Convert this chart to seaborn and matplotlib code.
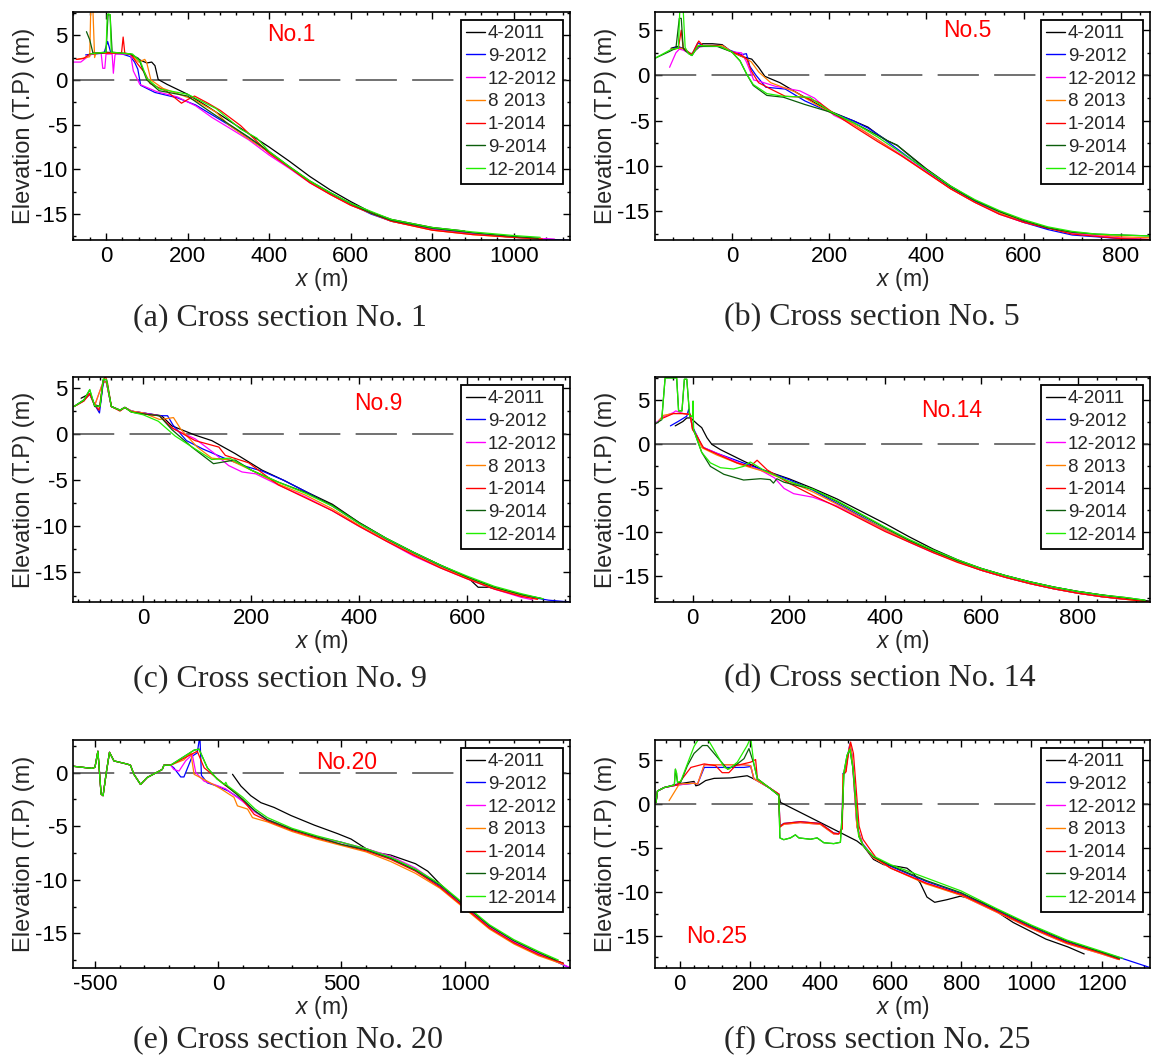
import matplotlib
matplotlib.use("Agg")
import matplotlib.pyplot as plt
from matplotlib.lines import Line2D
from matplotlib.ticker import MultipleLocator
import seaborn as sns
import pandas as pd

# survey names and line colours (same order in every panel)
surveys = ["4-2011", "9-2012", "12-2012", "8 2013", "1-2014", "9-2014", "12-2014"]
colors = ["#000000", "#0000ff", "#ff00ff", "#ff8000", "#ff0000", "#0b5d0b", "#22ee00"]

# ---------------- Cross section No. 1 ----------------
no1_apr11_x = [-45, -30, 0, 30, 60, 80, 100, 112, 120, 128, 150, 200, 250, 300, 350, 400, 450, 500, 550, 600, 650, 700, 800, 880]
no1_apr11_y = [2.8, 3.0, 3.1, 3.0, 2.9, 2.3, 1.9, 2.0, 1.6, 0.05, -0.5, -1.6, -3.0, -4.5, -6.0, -7.5, -9.1, -10.8, -12.3, -13.6, -14.8, -15.6, -16.5, -16.9]
no1_sep12_x = [-50, -30, -5, 4, 12, 40, 60, 70, 78, 85, 120, 175, 220, 260, 300, 350, 400, 450, 500, 550, 600, 650, 700, 800, 900, 1000, 1080, 1138]
no1_sep12_y = [2.8, 2.9, 3.0, 4.3, 3.0, 2.9, 2.6, 2.0, 1.2, -0.6, -1.4, -2.0, -2.8, -3.9, -5.0, -6.5, -8.1, -9.8, -11.4, -12.7, -13.9, -15.0, -15.8, -16.7, -17.2, -17.6, -17.8, -17.95]
no1_dec12_x = [-80, -62, -45, -30, -12, -8, -3, 0, 15, 18, 22, 25, 60, 67, 83, 124, 175, 220, 260, 300, 350, 400, 450, 500, 550, 600, 700, 800, 900, 1000, 1100]
no1_dec12_y = [2.0, 2.0, 2.6, 3.0, 3.0, 1.3, 1.3, 2.9, 2.9, 0.75, 2.8, 2.9, 2.9, 1.0, -0.5, -1.3, -1.9, -2.9, -4.2, -5.3, -6.7, -8.4, -9.9, -11.5, -12.8, -14.0, -15.8, -16.7, -17.2, -17.6, -17.8]
no1_aug13_x = [-70, -50, -40, -37, -33, -28, -25, 0, 30, 60, 80, 95, 100, 110, 140, 180, 220, 270, 300, 350, 400, 450, 500, 550, 600, 700, 800, 900, 1000, 1070]
no1_aug13_y = [2.3, 2.5, 2.6, 9.0, 9.0, 2.5, 3.0, 3.0, 3.0, 2.9, 2.0, 2.3, 1.9, 0.0, -0.95, -1.6, -2.3, -3.6, -5.0, -6.6, -8.1, -9.8, -11.4, -12.8, -14.0, -15.8, -16.8, -17.3, -17.6, -17.8]
no1_jan14_x = [-73, -55, -40, -10, 20, 38, 42, 46, 60, 79, 95, 108, 150, 185, 200, 217, 250, 280, 330, 400, 450, 500, 550, 600, 700, 800, 900, 1000, 1070]
no1_jan14_y = [2.3, 2.4, 2.9, 3.0, 3.0, 3.0, 4.8, 3.0, 2.9, 1.7, 0.8, -0.4, -1.3, -2.6, -2.2, -1.8, -2.6, -3.4, -5.1, -8.2, -9.8, -11.5, -12.8, -14.0, -15.8, -16.8, -17.3, -17.6, -17.8]
no1_sep14_x = [-48, -40, -32, -10, 0, 5, 10, 15, 40, 60, 80, 100, 130, 200, 260, 300, 350, 400, 450, 500, 550, 600, 650, 700, 800, 900, 1000, 1060]
no1_sep14_y = [5.4, 4.5, 3.0, 3.0, 3.1, 7.3, 7.3, 3.1, 3.0, 2.9, 2.4, 0.0, -1.2, -1.8, -3.7, -4.9, -6.4, -8.0, -9.7, -11.3, -12.6, -13.8, -14.9, -15.7, -16.6, -17.1, -17.5, -17.7]
no1_dec14_x = [-40, -25, 0, 3, 6, 10, 13, 40, 65, 85, 100, 130, 200, 270, 330, 370, 400, 450, 500, 550, 600, 700, 800, 900, 1000, 1065]
no1_dec14_y = [2.9, 3.0, 3.1, 7.3, 7.4, 7.3, 3.1, 3.0, 2.9, 2.0, 0.2, -1.0, -1.6, -3.2, -5.5, -6.5, -8.0, -9.7, -11.3, -12.6, -13.8, -15.6, -16.5, -17.0, -17.4, -17.6]

# ---------------- Cross section No. 5 ----------------
no5_apr11_x = [-125, -112, -100, -95, -85, -70, -60, -40, -20, 0, 20, 41, 55, 68, 99, 140, 200, 250, 280, 300, 320, 340, 400, 450, 500, 550, 600, 650]
no5_apr11_y = [3.0, 3.2, 3.0, 2.8, 2.3, 3.0, 3.5, 3.5, 3.4, 2.6, 2.1, 1.8, 0.9, -0.1, -0.8, -2.1, -3.9, -5.0, -5.7, -6.5, -7.2, -7.7, -10.3, -12.2, -13.8, -15.0, -16.1, -16.9]
no5_sep12_x = [-120, -110, -100, -90, -82, -70, -60, -30, 0, 20, 30, 37, 50, 70, 110, 150, 200, 250, 280, 300, 350, 400, 450, 500, 550, 600, 650, 700, 800, 860]
no5_sep12_y = [3.0, 3.1, 3.0, 2.6, 2.3, 3.6, 3.3, 3.3, 2.7, 2.3, 2.4, 1.0, 0.0, -1.3, -1.5, -2.8, -4.0, -5.0, -5.8, -6.5, -8.5, -10.5, -12.3, -13.9, -15.2, -16.2, -17.0, -17.6, -18.0, -18.15]
no5_dec12_x = [-128, -115, -108, -100, -90, -82, -70, -50, -20, 0, 20, 30, 45, 60, 90, 140, 170, 210, 250, 300, 350, 400, 450, 500, 550, 600, 700, 800, 860]
no5_dec12_y = [0.9, 2.5, 2.9, 2.8, 2.5, 2.3, 3.1, 3.3, 3.3, 2.6, 2.5, 1.5, -0.5, -0.7, -1.2, -1.7, -2.5, -4.4, -5.4, -7.1, -8.8, -10.6, -12.5, -14.0, -15.3, -16.2, -17.4, -17.9, -18.1]
no5_aug13_x = [-120, -110, -103, -98, -90, -82, -70, -40, -20, 0, 25, 40, 55, 80, 130, 170, 200, 250, 300, 350, 400, 450, 500, 550, 600, 650, 700, 800, 860]
no5_aug13_y = [2.9, 3.0, 3.0, 2.9, 2.6, 2.3, 3.3, 3.3, 3.3, 2.6, 2.0, 1.5, 0.4, -0.8, -1.8, -3.1, -4.0, -5.4, -7.1, -8.9, -10.7, -12.5, -14.0, -15.2, -16.0, -16.8, -17.3, -17.8, -17.9]
no5_jan14_x = [-125, -110, -104, -100, -96, -90, -82, -72, -68, -60, -30, 0, 20, 31, 40, 55, 80, 110, 150, 180, 200, 230, 250, 300, 350, 400, 450, 500, 550, 600, 700, 800, 860]
no5_jan14_y = [2.9, 3.0, 5.0, 3.0, 2.8, 2.6, 2.3, 3.4, 3.8, 3.3, 3.3, 2.6, 2.2, 1.8, 0.5, -0.8, -1.5, -2.3, -2.4, -3.0, -3.8, -4.9, -5.6, -7.3, -8.9, -10.7, -12.5, -14.0, -15.3, -16.2, -17.5, -18.0, -18.1]
no5_sep14_x = [-158, -130, -115, -108, -104, -100, -95, -88, -82, -70, -60, -30, 0, 17, 31, 44, 72, 106, 150, 200, 250, 300, 320, 340, 400, 450, 500, 550, 600, 650, 700, 750, 800, 860]
no5_sep14_y = [1.9, 2.6, 3.0, 6.3, 6.3, 3.0, 2.7, 2.4, 2.2, 3.2, 3.2, 3.2, 2.6, 1.6, 0.1, -1.1, -2.2, -2.4, -3.2, -4.0, -5.2, -6.6, -7.2, -7.7, -10.4, -12.3, -13.8, -15.0, -16.0, -16.8, -17.3, -17.5, -17.6, -17.7]
no5_dec14_x = [-158, -124, -110, -107, -100, -96, -89, -82, -69, -24, 0, 17, 31, 44, 72, 106, 160, 200, 250, 300, 350, 400, 450, 500, 550, 600, 650, 700, 750, 800, 860]
no5_dec14_y = [1.9, 2.9, 3.0, 7.2, 7.2, 3.1, 2.4, 2.2, 3.3, 3.2, 2.6, 1.6, 0.1, -1.0, -2.0, -2.3, -2.4, -3.9, -5.2, -6.8, -8.6, -10.4, -12.2, -13.7, -14.9, -15.9, -16.7, -17.2, -17.5, -17.6, -17.7]

# ---------------- Cross section No. 9 ----------------
no9_apr11_x = [-115, -99, -90, -80, -74, -68, -59, -43, -34, -22, 0, 34, 53, 96, 127, 170, 195, 220, 260, 300, 350, 400, 450, 500, 550, 600, 620, 640, 700, 735]
no9_apr11_y = [3.9, 4.4, 3.2, 3.0, 5.8, 5.6, 3.0, 2.6, 2.9, 2.5, 2.3, 2.0, 0.9, -0.1, -0.7, -2.1, -3.0, -3.9, -5.0, -6.2, -7.6, -9.6, -11.3, -12.8, -14.2, -15.5, -16.6, -16.6, -17.4, -17.8]
no9_sep12_x = [-128, -110, -99, -90, -81, -74, -68, -59, -43, -34, -22, 0, 30, 45, 55, 80, 110, 150, 190, 220, 260, 300, 350, 400, 450, 500, 550, 600, 650, 700, 750, 790]
no9_sep12_y = [3.0, 3.7, 4.3, 3.2, 2.3, 5.6, 5.6, 3.0, 2.6, 2.9, 2.5, 2.3, 2.0, 2.0, 1.0, -0.7, -1.6, -2.6, -3.5, -4.0, -5.0, -6.2, -7.8, -9.7, -11.4, -12.9, -14.3, -15.6, -16.7, -17.5, -18.0, -18.2]
no9_dec12_x = [-128, -110, -99, -90, -74, -68, -59, -43, -34, -22, 0, 30, 55, 96, 130, 158, 183, 208, 250, 300, 350, 400, 450, 500, 550, 600, 650, 700, 720]
no9_dec12_y = [3.0, 3.6, 4.4, 3.1, 5.7, 5.6, 3.0, 2.6, 2.9, 2.5, 2.3, 2.0, 0.6, -0.5, -2.0, -3.4, -4.1, -4.3, -5.5, -6.8, -8.3, -10.0, -11.6, -13.2, -14.5, -15.7, -16.8, -17.7, -17.95]
no9_aug13_x = [-128, -110, -99, -90, -74, -68, -59, -43, -34, -22, 0, 30, 45, 56, 70, 100, 127, 160, 200, 250, 300, 350, 400, 450, 500, 550, 600, 650, 700, 730]
no9_aug13_y = [3.0, 3.6, 4.4, 3.1, 5.7, 5.6, 3.0, 2.6, 2.9, 2.5, 2.3, 1.6, 1.7, 1.8, 0.5, -1.4, -2.6, -2.8, -3.9, -5.4, -6.6, -8.1, -9.9, -11.5, -13.0, -14.4, -15.6, -16.7, -17.5, -17.9]
no9_jan14_x = [-128, -110, -99, -90, -82, -74, -70, -66, -59, -43, -34, -22, 0, 30, 53, 96, 140, 152, 195, 250, 300, 350, 400, 450, 500, 550, 600, 650, 700, 730]
no9_jan14_y = [3.0, 3.6, 4.4, 3.2, 2.6, 5.8, 6.3, 5.5, 3.0, 2.5, 2.9, 2.4, 2.2, 2.0, 0.7, -0.7, -1.4, -2.3, -3.1, -5.5, -6.9, -8.3, -10.0, -11.6, -13.1, -14.5, -15.7, -16.8, -17.6, -17.9]
no9_sep14_x = [-128, -110, -99, -90, -80, -74, -68, -59, -43, -34, -22, 0, 30, 53, 90, 130, 170, 200, 250, 300, 350, 400, 450, 500, 550, 600, 650, 700, 740]
no9_sep14_y = [3.0, 3.7, 4.8, 3.0, 3.0, 5.9, 5.9, 3.0, 2.6, 2.9, 2.4, 2.2, 2.0, 0.5, -1.4, -3.2, -2.8, -3.9, -5.2, -6.3, -7.7, -9.6, -11.3, -12.8, -14.2, -15.5, -16.6, -17.4, -17.85]
no9_dec14_x = [-128, -110, -99, -90, -80, -74, -68, -59, -43, -34, -22, 0, 28, 59, 96, 127, 160, 200, 250, 300, 350, 400, 450, 500, 550, 600, 650, 700, 740]
no9_dec14_y = [3.0, 3.7, 4.85, 3.1, 3.0, 6.0, 5.9, 3.0, 2.6, 2.9, 2.4, 2.1, 1.4, -0.2, -1.6, -2.75, -2.6, -3.9, -5.2, -6.4, -7.8, -9.7, -11.3, -12.8, -14.2, -15.4, -16.5, -17.3, -17.85]

# ---------------- Cross section No. 14 ----------------
no14_apr11_x = [-36, -20, -12, -5, 0, 10, 19, 30, 40, 58, 106, 141, 200, 250, 300, 350, 400, 450, 500, 550, 600, 650, 700, 750, 800, 850, 900, 950]
no14_apr11_y = [2.1, 2.6, 3.0, 3.0, 2.8, 2.3, 1.9, 0.75, 0.0, -0.6, -1.9, -2.8, -3.9, -5.0, -6.2, -7.6, -9.0, -10.5, -11.9, -13.1, -14.1, -14.9, -15.6, -16.2, -16.7, -17.1, -17.5, -17.8]
no14_sep12_x = [-46, -30, -12, -8, -4, 0, 9, 20, 50, 100, 150, 200, 250, 300, 350, 400, 450, 500, 550, 600, 650, 700, 750, 800, 850, 900]
no14_sep12_y = [2.1, 2.6, 3.2, 4.0, 3.0, 2.0, 1.0, -0.3, -1.0, -2.0, -3.0, -4.0, -5.2, -6.7, -8.2, -9.7, -11.0, -12.2, -13.3, -14.3, -15.1, -15.8, -16.4, -16.9, -17.3, -17.6]
no14_dec12_x = [-78, -65, -50, -40, -35, -20, -5, 0, 9, 20, 50, 100, 140, 170, 190, 210, 250, 300, 350, 400, 450, 500, 550, 600, 650, 700, 750, 800, 850, 900]
no14_dec12_y = [2.3, 3.0, 3.4, 3.6, 3.8, 3.5, 3.4, 1.7, 1.0, -0.3, -1.0, -2.2, -2.9, -3.8, -5.0, -5.6, -6.0, -7.0, -8.4, -9.8, -11.1, -12.3, -13.3, -14.3, -15.1, -15.8, -16.4, -16.9, -17.3, -17.6]
no14_aug13_x = [-70, -60, -40, -20, -5, 0, 9, 20, 50, 100, 150, 200, 250, 300, 350, 400, 450, 500, 550, 600, 650, 700, 750, 800, 850, 900, 950]
no14_aug13_y = [2.7, 3.3, 3.5, 3.5, 3.4, 1.7, 0.9, -0.4, -1.2, -2.3, -3.1, -4.2, -5.4, -6.8, -8.3, -9.7, -11.0, -12.2, -13.3, -14.3, -15.1, -15.8, -16.4, -16.9, -17.3, -17.6, -17.9]
no14_jan14_x = [-65, -40, -20, -5, 0, 9, 23, 51, 92, 120, 134, 155, 200, 250, 300, 350, 400, 450, 500, 550, 600, 650, 700, 750, 800, 850, 900, 950]
no14_jan14_y = [2.9, 3.5, 3.5, 3.4, 1.7, 0.95, -0.4, -1.1, -2.1, -2.5, -1.8, -2.9, -4.4, -5.8, -7.1, -8.5, -9.9, -11.1, -12.3, -13.4, -14.3, -15.1, -15.8, -16.4, -16.9, -17.3, -17.6, -17.9]
no14_sep14_x = [-78, -64, -57, -33, -29, -22, -17, -12, -6, 0, 1, 2, 9, 19, 37, 65, 106, 141, 161, 168, 175, 190, 250, 300, 350, 400, 450, 500, 550, 600, 650, 700, 750, 800, 850, 900, 940]
no14_sep14_y = [2.3, 2.8, 7.55, 7.55, 3.8, 3.8, 7.4, 7.4, 3.2, 3.2, 4.9, 1.7, 0.6, -0.9, -2.5, -3.4, -4.05, -3.9, -4.0, -4.4, -3.9, -4.3, -5.1, -6.5, -8.0, -9.5, -10.9, -12.1, -13.2, -14.1, -14.9, -15.6, -16.2, -16.7, -17.1, -17.4, -17.7]
no14_dec14_x = [-64, -57, -33, -29, -22, -17, -12, -6, 0, 1, 2, 9, 19, 37, 58, 85, 106, 120, 150, 200, 250, 300, 350, 400, 450, 500, 550, 600, 650, 700, 750, 800, 850, 900, 940]
no14_dec14_y = [2.8, 7.55, 7.55, 3.8, 3.8, 7.4, 7.4, 3.2, 3.2, 4.9, 1.7, 0.6, -0.9, -2.1, -2.65, -2.8, -2.5, -2.0, -3.0, -4.2, -5.1, -6.4, -7.9, -9.4, -10.8, -12.0, -13.1, -14.1, -14.9, -15.6, -16.2, -16.7, -17.1, -17.4, -17.7]

# ---------------- Cross section No. 20 ----------------
# backshore part shared by the 2012-2014 surveys
no20_back_x = [-589, -512, -500, -488, -475, -467, -454, -441, -423, -369, -356, -342, -315, -288, -247, -227, -220, -193]
no20_back_y = [0.6, 0.4, 0.5, 2.0, -2.0, -2.15, 0.0, 1.9, 1.1, 0.8, 0.7, -0.15, -1.1, -0.45, 0.05, 0.3, 0.7, 0.7]
no20_apr11_x = [58, 92, 132, 173, 227, 295, 390, 485, 539, 600, 650, 700, 800, 850, 900, 1000, 1100, 1200, 1300, 1400]
no20_apr11_y = [-0.15, -1.25, -2.15, -2.8, -3.25, -4.0, -4.9, -5.7, -6.2, -7.1, -7.5, -7.7, -8.5, -9.2, -10.4, -12.5, -14.4, -15.8, -16.9, -17.8]
no20_sep12_x = no20_back_x + [-180, -152, -139, -105, -85, -76, -74, -68, -44, -4, 40, 100, 150, 200, 300, 400, 500, 600, 700, 800, 900, 1000, 1100, 1200, 1300, 1427]
no20_sep12_y = no20_back_y + [0.45, -0.4, -0.4, 1.55, 1.85, 3.2, 3.2, -0.25, -0.95, -1.25, -1.7, -2.6, -3.6, -4.4, -5.3, -6.0, -6.5, -7.2, -8.0, -9.1, -10.6, -12.5, -14.3, -15.8, -16.9, -18.24]
no20_dec12_x = no20_back_x + [-180, -159, -132, -105, -91, -57, -17, 30, 100, 150, 200, 300, 400, 500, 600, 700, 800, 900, 1000, 1100, 1200, 1300, 1427]
no20_dec12_y = no20_back_y + [0.3, 0.15, 1.1, 1.7, 0.0, -0.8, -1.1, -1.5, -2.7, -3.7, -4.4, -5.3, -6.0, -6.5, -7.1, -7.8, -8.9, -10.5, -12.5, -14.4, -15.8, -16.9, -18.2]
no20_aug13_x = no20_back_x + [-139, -111, -98, -44, 10, 64, 78, 119, 139, 200, 300, 400, 500, 600, 700, 800, 900, 1000, 1100, 1200, 1300, 1400]
no20_aug13_y = no20_back_y + [1.2, 1.85, -0.15, -0.8, -1.5, -2.3, -3.1, -3.4, -4.2, -4.6, -5.5, -6.2, -6.8, -7.4, -8.3, -9.4, -10.8, -12.7, -14.6, -16.0, -17.1, -17.9]
no20_jan14_x = no20_back_x + [-85, -57, -17, 24, 78, 119, 146, 200, 300, 400, 500, 600, 700, 800, 900, 1000, 1100, 1200, 1300, 1400]
no20_jan14_y = no20_back_y + [2.0, 0.45, -0.3, -1.1, -2.0, -3.1, -3.9, -4.5, -5.4, -6.1, -6.7, -7.3, -8.1, -9.2, -10.7, -12.6, -14.5, -15.9, -17.0, -17.8]
no20_sep14_x = no20_back_x + [-98, -78, -44, -4, 37, 100, 150, 200, 300, 400, 500, 600, 700, 800, 900, 1000, 1100, 1200, 1300, 1370]
no20_sep14_y = no20_back_y + [2.1, 2.2, 0.45, -0.6, -1.3, -2.5, -3.6, -4.4, -5.3, -6.0, -6.7, -7.2, -8.0, -9.1, -10.5, -12.4, -14.3, -15.7, -16.8, -17.5]
no20_dec14_x = no20_back_x + [-98, -78, -44, -4, 24, 31, 37, 60, 100, 150, 200, 300, 400, 500, 600, 700, 800, 900, 1000, 1100, 1200, 1300, 1380]
no20_dec14_y = no20_back_y + [2.1, 2.2, 0.45, -0.6, -1.1, -0.9, -1.2, -1.6, -2.3, -3.4, -4.2, -5.2, -5.9, -6.5, -7.1, -7.9, -9.0, -10.4, -12.3, -14.2, -15.6, -16.7, -17.5]

# ---------------- Cross section No. 25 ----------------
no25_apr11_x = [-67, -63, -44, -6, 41, 46, 55, 74, 98, 145, 192, 221, 254, 282, 287, 504, 523, 551, 580, 618, 646, 665, 684, 703, 725, 760, 798, 830, 865, 948, 1041, 1104, 1150]
no25_apr11_y = [0.2, 1.5, 1.9, 2.3, 2.6, 2.1, 2.2, 2.7, 2.95, 3.0, 3.25, 2.7, 1.9, 1.0, 0.2, -4.2, -4.8, -6.3, -6.9, -7.1, -7.3, -7.9, -9.0, -10.6, -11.2, -10.9, -10.5, -10.8, -11.3, -13.5, -15.4, -16.3, -17.1]
no25_sep12_x = [-67, -63, -44, -6, 41, 51, 70, 183, 202, 211, 254, 282, 285, 296, 343, 400, 438, 452, 462, 464, 471, 478, 484, 490, 504, 520, 550, 600, 700, 800, 900, 1000, 1100, 1200, 1250, 1337]
no25_sep12_y = [0.2, 1.5, 1.9, 2.2, 2.4, 2.3, 4.2, 4.2, 4.3, 2.9, 1.9, 1.15, -2.5, -2.2, -2.0, -2.2, -3.3, -3.35, -2.7, 3.5, 3.65, 5.6, 6.9, 5.6, -2.5, -4.5, -6.0, -7.1, -8.8, -10.2, -12.1, -14.0, -15.7, -16.9, -17.5, -18.65]
no25_dec12_x = [-67, -63, -44, -6, 41, 51, 70, 183, 202, 211, 254, 282, 285, 296, 343, 400, 438, 452, 462, 464, 471, 478, 484, 490, 504, 520, 550, 600, 700, 800, 900, 1000, 1100, 1200, 1245]
no25_dec12_y = [0.2, 1.5, 1.9, 2.2, 2.4, 2.3, 4.5, 4.5, 4.4, 2.9, 1.9, 1.15, -2.6, -2.3, -2.1, -2.3, -3.4, -3.4, -2.8, 3.4, 3.6, 5.5, 6.8, 5.5, -2.6, -4.6, -6.1, -7.3, -9.0, -10.4, -12.3, -14.2, -15.9, -17.1, -17.7]
no25_aug13_x = [-30, -1, 41, 51, 70, 183, 202, 211, 254, 282, 285, 296, 343, 400, 438, 452, 462, 464, 471, 478, 484, 490, 504, 520, 550, 600, 700, 800, 900, 1000, 1100, 1200, 1250]
no25_aug13_y = [0.4, 2.3, 2.4, 2.3, 4.5, 4.5, 4.4, 2.9, 1.9, 1.15, -2.6, -2.3, -2.1, -2.3, -3.4, -3.4, -2.8, 3.4, 3.6, 5.5, 6.8, 5.5, -2.6, -4.6, -6.1, -7.3, -9.1, -10.4, -12.3, -14.2, -15.9, -17.1, -17.75]
no25_jan14_x = [-67, -63, -44, -6, 32, 70, 102, 121, 140, 159, 202, 216, 221, 254, 282, 285, 296, 343, 400, 438, 452, 462, 466, 473, 480, 486, 494, 510, 521, 535, 560, 600, 700, 800, 900, 1000, 1100, 1200, 1250]
no25_jan14_y = [0.2, 1.5, 1.9, 2.2, 4.2, 4.6, 4.4, 3.6, 3.6, 4.4, 4.8, 5.1, 2.9, 1.9, 1.15, -2.6, -2.2, -2.0, -2.2, -3.3, -3.4, -2.8, 3.5, 3.7, 5.8, 7.1, 5.8, -2.5, -4.0, -4.8, -6.2, -7.3, -9.0, -10.3, -12.2, -14.1, -15.8, -17.0, -17.7]
no25_sep14_x = [-67, -63, -44, -15, -12, -6, 3, 22, 41, 65, 79, 98, 136, 164, 183, 197, 211, 221, 254, 282, 285, 296, 315, 329, 339, 372, 391, 410, 438, 457, 464, 467, 476, 484, 493, 509, 523, 550, 600, 700, 800, 900, 1000, 1100, 1200, 1250]
no25_sep14_y = [0.2, 1.5, 1.9, 2.2, 4.0, 2.5, 2.5, 4.4, 5.8, 6.7, 6.7, 5.8, 4.0, 4.6, 5.2, 6.35, 4.6, 2.9, 1.9, 1.0, -3.85, -4.05, -3.85, -3.5, -3.85, -4.0, -3.85, -4.4, -4.5, -4.35, 0.2, 3.65, 5.6, 6.2, 4.0, -3.65, -4.8, -6.0, -7.0, -8.7, -10.1, -12.0, -13.9, -15.6, -16.9, -17.6]
no25_dec14_x = [-67, -63, -44, -15, -12, -8, -6, 3, 22, 41, 55, 79, 98, 127, 140, 164, 192, 202, 211, 221, 254, 282, 285, 296, 315, 329, 339, 372, 391, 410, 438, 457, 464, 467, 476, 484, 493, 509, 523, 550, 600, 700, 800, 900, 1000, 1100, 1200, 1260]
no25_dec14_y = [0.2, 1.5, 1.9, 2.2, 4.0, 3.5, 2.5, 2.6, 4.6, 6.6, 7.5, 7.5, 6.2, 4.2, 4.0, 4.8, 6.7, 7.6, 4.6, 2.9, 1.9, 1.0, -3.85, -4.05, -3.85, -3.5, -3.85, -4.0, -3.85, -4.4, -4.5, -4.35, 0.2, 3.65, 5.6, 6.3, 4.0, -3.65, -4.8, -5.9, -6.9, -8.4, -9.9, -11.9, -13.8, -15.5, -16.8, -17.6]

# ---------------- figure ----------------
sns.set_style("ticks")
plt.rcParams["font.family"] = ["Liberation Sans", "DejaVu Sans"]
plt.rcParams["mathtext.fontset"] = "custom"
plt.rcParams["mathtext.it"] = "Liberation Sans:italic"
plt.rcParams["mathtext.rm"] = "Liberation Sans"
plt.rcParams["axes.unicode_minus"] = False

W, H = 1153, 1059
fig = plt.figure(figsize=(W / 100, H / 100), dpi=100)


def make_axes(left, top, right, bottom):
    return fig.add_axes([left / W, 1 - bottom / H, (right - left) / W, (bottom - top) / H])


def draw(ax, series, xlim, ylim, xmajor, xminor, tag, tagpos):
    frames = []
    for name, (xs, ys) in zip(surveys, series):
        frames.append(pd.DataFrame({"x": xs, "y": ys, "survey": name}))
    df = pd.concat(frames, ignore_index=True)

    ax.axhline(0, color="#4a4a4a", lw=1.1, ls=(0, (27, 10)), zorder=1)
    sns.lineplot(data=df, x="x", y="y", hue="survey", hue_order=surveys,
                 palette=colors, sort=False, estimator=None, lw=0.9,
                 legend=False, ax=ax, zorder=2)

    ax.set_xlim(*xlim)
    ax.set_ylim(*ylim)
    ax.xaxis.set_major_locator(MultipleLocator(xmajor))
    ax.xaxis.set_minor_locator(MultipleLocator(xminor))
    ax.yaxis.set_major_locator(MultipleLocator(5))
    ax.yaxis.set_minor_locator(MultipleLocator(2.5))
    ax.tick_params(which="both", direction="in", top=True, right=True,
                   labelsize=16, width=1, colors="black")
    ax.tick_params(which="major", length=5, pad=4)
    ax.tick_params(which="minor", length=2.5)
    for sp in ax.spines.values():
        sp.set_linewidth(1.2)
        sp.set_color("black")

    ax.set_ylabel("Elevation (T.P) (m)", fontsize=17)
    ax.set_xlabel("$x$ (m)", fontsize=16.5)
    ax.yaxis.set_label_coords(-0.076, 0.5)
    ax.xaxis.set_label_coords(0.5, -0.115)

    ax.text(tagpos[0], tagpos[1], tag, transform=ax.transAxes, color="red",
            fontsize=16.5, ha="center", va="center")

    handles = [Line2D([], [], color=c, lw=1.0) for c in colors]
    leg = ax.legend(handles, surveys, loc="upper right", fontsize=13.5,
                    handlelength=1.0, handletextpad=0.15, labelspacing=0.3,
                    borderpad=0.3, borderaxespad=0.4, fancybox=False,
                    framealpha=1, edgecolor="black")
    leg.get_frame().set_linewidth(1.3)


ax_a = make_axes(73, 12, 570, 240)
draw(ax_a, [(no1_apr11_x, no1_apr11_y), (no1_sep12_x, no1_sep12_y), (no1_dec12_x, no1_dec12_y),
            (no1_aug13_x, no1_aug13_y), (no1_jan14_x, no1_jan14_y), (no1_sep14_x, no1_sep14_y),
            (no1_dec14_x, no1_dec14_y)],
     (-81, 1138), (-17.9, 7.6), 200, 40, "No.1", (0.44, 0.9))

ax_b = make_axes(655, 12, 1150, 240)
draw(ax_b, [(no5_apr11_x, no5_apr11_y), (no5_sep12_x, no5_sep12_y), (no5_dec12_x, no5_dec12_y),
            (no5_aug13_x, no5_aug13_y), (no5_jan14_x, no5_jan14_y), (no5_sep14_x, no5_sep14_y),
            (no5_dec14_x, no5_dec14_y)],
     (-158, 860), (-18.15, 7.0), 200, 40, "No.5", (0.63, 0.918))

ax_c = make_axes(73, 377, 570, 602)
draw(ax_c, [(no9_apr11_x, no9_apr11_y), (no9_sep12_x, no9_sep12_y), (no9_dec12_x, no9_dec12_y),
            (no9_aug13_x, no9_aug13_y), (no9_jan14_x, no9_jan14_y), (no9_sep14_x, no9_sep14_y),
            (no9_dec14_x, no9_dec14_y)],
     (-130, 790), (-18.2, 6.2), 200, 20, "No.9", (0.614, 0.88))

ax_d = make_axes(655, 377, 1150, 602)
draw(ax_d, [(no14_apr11_x, no14_apr11_y), (no14_sep12_x, no14_sep12_y), (no14_dec12_x, no14_dec12_y),
            (no14_aug13_x, no14_aug13_y), (no14_jan14_x, no14_jan14_y), (no14_sep14_x, no14_sep14_y),
            (no14_dec14_x, no14_dec14_y)],
     (-78, 950), (-17.9, 7.65), 200, 40, "No.14", (0.60, 0.85))

ax_e = make_axes(73, 740, 570, 968)
draw(ax_e, [(no20_apr11_x, no20_apr11_y), (no20_sep12_x, no20_sep12_y), (no20_dec12_x, no20_dec12_y),
            (no20_aug13_x, no20_aug13_y), (no20_jan14_x, no20_jan14_y), (no20_sep14_x, no20_sep14_y),
            (no20_dec14_x, no20_dec14_y)],
     (-589, 1427), (-18.24, 3.05), 500, 100, "No.20", (0.55, 0.90))

ax_f = make_axes(655, 740, 1150, 968)
draw(ax_f, [(no25_apr11_x, no25_apr11_y), (no25_sep12_x, no25_sep12_y), (no25_dec12_x, no25_dec12_y),
            (no25_aug13_x, no25_aug13_y), (no25_jan14_x, no25_jan14_y), (no25_sep14_x, no25_sep14_y),
            (no25_dec14_x, no25_dec14_y)],
     (-70, 1337), (-18.7, 7.33), 200, 40, "No.25", (0.125, 0.14))

captions = [("(a) Cross section No. 1", 133, 318), ("(b) Cross section No. 5", 724, 318),
            ("(c) Cross section No. 9", 133, 679), ("(d) Cross section No. 14", 724, 679),
            ("(e) Cross section No. 20", 133, 1040), ("(f) Cross section No. 25", 724, 1040)]
for txt, px, py in captions:
    fig.text(px / W, 1 - py / H, txt, family="Liberation Serif", fontsize=23,
             ha="left", va="center")

fig.savefig("out.png", dpi=100)
